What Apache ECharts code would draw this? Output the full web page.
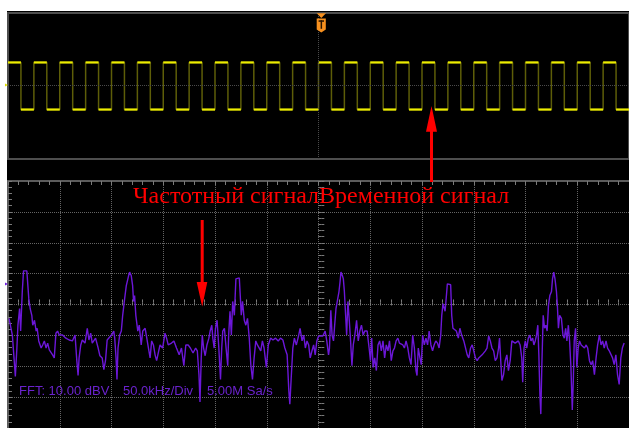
<!DOCTYPE html>
<html><head><meta charset="utf-8">
<script src="https://cdn.jsdelivr.net/npm/echarts@6/dist/echarts.min.js"></script>
<style>
html,body{margin:0;padding:0;background:#fff;}
#bg{position:absolute;left:7px;top:11px;width:622px;height:417px;background:#000;}
#chart{position:absolute;left:0;top:0;width:629px;height:428px;}
</style></head><body>
<div id="bg"></div><div id="chart"></div>
<script>
// ---- DATA ----
// Upper trace: square wave, edge times (divisions) and level held after each edge (V)
const sqEdgeTimes = [0,0.25,0.5,0.75,1,1.25,1.5,1.75,2,2.25,2.5,2.75,3,3.25,3.5,3.75,4,4.25,4.5,4.75,5,5.25,5.5,5.75,6,6.25,6.5,6.75,7,7.25,7.5,7.75,8,8.25,8.5,8.75,9,9.25,9.5,9.75,10,10.25,10.5,10.75,11,11.25,11.5,11.75,12];
const sqLevels = [1,-1,1,-1,1,-1,1,-1,1,-1,1,-1,1,-1,1,-1,1,-1,1,-1,1,-1,1,-1,1,-1,1,-1,1,-1,1,-1,1,-1,1,-1,1,-1,1,-1,1,-1,1,-1,1,-1,1,-1];
// Lower trace: FFT spectrum [frequency kHz, level dBV]
const fftPoints = [[1.0,-4.5],[4.2,-9.9],[7.1,-23.3],[8.6,-14.1],[9.6,-6.7],[11.2,-1.3],[12.2,-8.6],[13.8,4.2],[15.0,10.9],[16.9,10.9],[18.2,10.9],[19.2,6.1],[20.1,1.9],[21.4,-1.3],[23.0,-3.5],[23.9,-6.7],[25.6,-5.1],[27.2,-8.6],[28.2,-7.7],[29.7,-11.8],[32.0,-14.1],[33.5,-13.1],[35.1,-11.8],[36.8,-14.1],[38.3,-12.5],[39.9,-14.7],[41.6,-15.0],[43.1,-16.3],[44.7,-17.3],[46.3,-9.3],[47.9,-8.6],[49.5,-9.9],[52.7,-9.9],[55.9,-10.9],[59.1,-11.5],[62.2,-11.8],[64.8,-9.9],[66.5,-18.2],[67.7,-23.0],[68.7,-17.3],[70.3,-13.1],[71.8,-11.5],[74.4,-12.5],[76.6,-7.7],[78.2,-11.5],[79.9,-9.3],[81.4,-12.5],[84.6,-10.9],[87.1,-14.1],[88.8,-16.6],[91.0,-17.3],[92.6,-21.1],[94.2,-18.2],[95.8,-11.5],[97.4,-10.9],[100.0,-9.9],[102.2,-8.6],[103.1,-10.9],[104.4,-17.3],[105.3,-24.3],[106.3,-14.1],[107.9,-9.9],[109.5,-8.6],[110.8,-3.5],[112.7,1.9],[114.3,6.1],[116.5,9.3],[117.5,10.5],[119.1,9.3],[120.4,6.1],[121.3,1.0],[122.3,2.9],[123.5,-3.5],[125.4,-8.6],[126.8,-6.7],[128.7,-13.1],[130.2,-8.6],[132.5,-7.7],[134.1,-10.9],[135.7,-14.1],[137.3,-17.3],[138.8,-11.8],[140.5,-13.1],[142.1,-16.3],[143.6,-18.2],[145.2,-15.7],[146.9,-13.1],[149.4,-14.1],[151.7,-9.3],[153.2,-10.9],[154.8,-13.1],[158.0,-12.5],[160.3,-11.8],[162.8,-14.1],[165.4,-16.3],[167.6,-14.1],[169.9,-19.8],[171.8,-13.1],[174.0,-13.1],[176.2,-14.1],[178.8,-15.7],[181.3,-14.1],[182.9,-15.0],[184.5,-22.7],[185.5,-31.6],[186.7,-17.3],[187.7,-9.9],[189.0,-14.1],[190.5,-16.6],[192.2,-13.1],[194.1,-10.9],[195.3,-8.6],[196.9,-6.7],[197.9,-10.9],[199.2,-14.1],[200.5,-7.7],[202.0,-5.1],[203.7,-14.1],[205.3,-24.3],[206.5,-14.1],[207.5,-8.6],[209.1,-7.7],[210.7,-14.1],[212.3,-19.8],[213.2,-9.9],[214.5,-2.2],[215.8,-9.9],[217.1,1.0],[218.7,-3.5],[220.2,8.3],[221.9,8.6],[223.5,8.6],[224.4,2.9],[225.4,-3.5],[226.6,1.0],[228.3,-5.1],[229.8,-6.7],[231.4,-4.5],[233.1,-10.9],[234.6,-19.5],[236.2,-24.3],[237.8,-17.3],[239.4,-11.8],[241.0,-13.1],[242.6,-12.5],[244.2,-15.0],[245.8,-11.8],[247.4,-14.1],[249.6,-20.4],[251.5,-13.1],[253.7,-10.9],[256.0,-11.5],[258.5,-10.9],[261.1,-11.8],[263.3,-10.9],[265.6,-11.5],[267.5,-14.1],[269.7,-16.3],[271.3,-27.8],[272.3,-32.3],[273.5,-24.6],[275.2,-14.1],[276.7,-10.9],[278.6,-13.1],[280.9,-9.9],[282.2,-7.7],[284.1,-11.8],[285.7,-9.9],[287.3,-14.1],[288.9,-11.8],[290.5,-13.1],[292.0,-17.3],[293.7,-15.0],[295.3,-13.1],[296.8,-16.3],[298.4,-11.8],[300.1,-10.2],[301.6,-10.2],[304.2,-10.2],[306.4,-8.6],[308.0,-11.8],[309.7,-16.3],[310.6,-14.1],[311.9,-1.9],[313.1,-9.9],[314.5,-11.8],[315.4,-7.7],[316.9,-1.3],[318.6,1.9],[319.8,4.2],[320.8,7.3],[321.7,10.5],[323.1,9.3],[324.0,8.3],[325.0,4.2],[326.2,-3.5],[327.2,-9.9],[328.4,1.0],[329.8,-5.4],[331.0,-11.8],[332.3,-19.8],[333.6,-13.1],[335.1,-9.9],[336.8,-5.1],[338.4,-11.8],[339.9,-8.6],[341.5,-6.7],[343.2,-9.9],[344.7,-8.6],[347.0,-8.6],[348.9,-14.1],[350.2,-18.2],[351.4,-10.9],[352.8,-20.4],[354.3,-17.3],[355.9,-21.4],[357.5,-13.1],[359.1,-11.8],[360.7,-15.0],[362.3,-11.8],[363.9,-17.3],[365.5,-13.1],[367.1,-15.0],[368.6,-11.8],[370.3,-18.2],[371.9,-15.0],[373.4,-14.1],[375.0,-11.8],[376.7,-10.9],[378.2,-12.5],[379.8,-13.1],[381.5,-13.1],[383.0,-14.1],[384.6,-11.8],[386.3,-14.1],[387.8,-17.3],[389.4,-19.5],[391.0,-9.9],[392.6,-14.1],[394.2,-21.4],[395.2,-23.0],[396.4,-14.1],[398.0,-17.3],[399.3,-19.5],[400.6,-9.9],[402.2,-13.1],[403.8,-10.9],[405.4,-13.1],[406.9,-8.6],[408.6,-13.1],[410.2,-15.0],[411.7,-13.1],[413.3,-11.8],[415.0,-12.5],[416.5,-14.1],[418.1,-9.9],[419.1,-3.5],[420.3,0.3],[422.3,-2.2],[423.6,2.9],[424.5,6.7],[426.1,6.7],[427.7,6.4],[428.7,-3.5],[429.9,-7.7],[431.5,-8.3],[433.2,-8.6],[435.1,-10.9],[436.6,-7.7],[438.3,-9.9],[440.4,-11.8],[442.1,-11.8],[443.7,-16.3],[445.2,-17.3],[446.9,-14.1],[448.5,-13.1],[450.0,-15.0],[451.6,-17.3],[453.3,-18.2],[454.8,-17.3],[456.4,-17.3],[458.1,-16.3],[459.6,-16.6],[461.2,-15.0],[462.8,-14.1],[464.4,-10.2],[466.0,-11.8],[467.6,-14.1],[469.2,-15.0],[470.8,-18.2],[472.4,-17.3],[474.0,-14.1],[474.9,-10.9],[476.3,-19.5],[477.2,-24.6],[478.8,-22.7],[480.4,-18.2],[482.0,-16.3],[483.5,-21.4],[485.2,-18.2],[486.8,-11.8],[488.3,-11.8],[490.0,-12.5],[491.6,-13.1],[493.1,-11.8],[494.8,-13.1],[496.4,-17.3],[497.3,-25.2],[498.6,-14.1],[499.8,-11.8],[501.2,-14.1],[502.7,-10.9],[504.3,-9.9],[505.3,-11.8],[506.9,-10.9],[508.1,-13.1],[509.4,-11.8],[510.7,-9.9],[511.9,-6.7],[512.9,-16.3],[513.9,-29.1],[514.8,-35.5],[515.8,-19.5],[517.1,-3.5],[518.4,-7.7],[519.7,-6.7],[520.9,-8.6],[522.2,-0.3],[523.5,2.9],[525.1,4.2],[526.1,8.3],[527.3,10.5],[528.5,8.3],[529.9,4.2],[530.8,-0.3],[531.8,-7.7],[533.0,-3.5],[534.7,-4.5],[536.2,-9.9],[537.5,-10.9],[538.8,-7.7],[540.0,-11.8],[541.4,-6.7],[542.6,-11.8],[543.9,-20.4],[545.2,-34.2],[546.2,-24.6],[547.1,-11.8],[548.4,-7.7],[549.6,-20.4],[550.9,-14.1],[552.2,-11.8],[553.8,-13.1],[555.4,-13.1],[557.0,-14.1],[558.6,-13.1],[560.1,-14.1],[561.8,-18.2],[563.4,-19.5],[564.9,-18.2],[566.6,-22.7],[568.2,-17.3],[569.7,-13.1],[571.4,-9.9],[573.0,-13.1],[574.5,-11.8],[576.1,-14.1],[577.8,-11.8],[579.3,-14.1],[580.9,-15.0],[582.5,-15.0],[584.1,-17.3],[585.7,-19.5],[587.3,-16.3],[588.9,-22.7],[590.5,-25.9],[592.1,-17.3],[593.6,-14.1],[595.3,-12.5]];
const fftInfoLabels = ['FFT: 10.00 dBV', '50.0kHz/Div', '5.00M Sa/s'];
const annotationText = 'Частотный сигналВременной сигнал';

// ---- CHART ----
const chart = echarts.init(document.getElementById('chart'), null, {renderer: 'canvas'});
const GRID_W = 626.6, GRID2_H = 251.1;
const gridCol = '#5c5c5c', dotCol = '#646464', tickCol = '#7a7a7a';
const sqStep = sqLevels.map((L, i) => [sqEdgeTimes[i], L]).concat([[sqEdgeTimes[sqEdgeTimes.length - 1], sqLevels[sqLevels.length - 1]]]);
const sqFlat = sqLevels.map((L, i) => [sqEdgeTimes[i], sqEdgeTimes[i + 1], L]);

function hiddenAxis(extra) {
  return Object.assign({type: 'value', axisLabel: {show: false}, axisTick: {show: false},
    axisLine: {show: false, onZero: false}, splitLine: {show: false}}, extra);
}
function tickAxis(extra, inside, len) {
  return Object.assign({type: 'value', axisLabel: {show: false},
    axisTick: {show: true, inside: inside, length: len, lineStyle: {color: tickCol, width: 1}},
    axisLine: {show: false, onZero: false}, splitLine: {show: false}}, extra);
}

const option = {
  backgroundColor: 'transparent',
  animation: false,
  grid: [
    {left: 8, top: 13, width: GRID_W, height: 146, show: true, borderColor: '#4e4e4e', borderWidth: 2, backgroundColor: 'transparent'},
    {left: 8, top: 181, width: GRID_W, height: GRID2_H, show: false}
  ],
  xAxis: [
    hiddenAxis({gridIndex: 0, min: 0, max: 12}),
    {type: 'value', gridIndex: 1, min: 0, max: 600, interval: 50, position: 'top',
      axisLine: {show: true, onZero: false, lineStyle: {color: gridCol, width: 2}},
      axisTick: {show: false}, axisLabel: {show: false},
      splitLine: {show: true, lineStyle: {color: dotCol, width: 1, type: [1, 1]}}},
    tickAxis({gridIndex: 1, min: 0, max: 600, interval: 10, position: 'top'}, true, 4),
    tickAxis({gridIndex: 1, min: 0, max: 600, interval: 10, position: 'bottom', offset: -GRID2_H / 2}, true, 3),
    tickAxis({gridIndex: 1, min: 0, max: 600, interval: 10, position: 'bottom', offset: -GRID2_H / 2}, false, 3)
  ],
  yAxis: [
    hiddenAxis({gridIndex: 0, min: -3.1, max: 3.1}),
    {type: 'value', gridIndex: 1, min: -40, max: 40, interval: 10, position: 'left',
      axisLine: {show: true, onZero: false, lineStyle: {color: gridCol, width: 2}},
      axisTick: {show: false}, axisLabel: {show: false},
      splitLine: {show: true, lineStyle: {color: dotCol, width: 1, type: [1, 1]}}},
    tickAxis({gridIndex: 1, min: -40, max: 40, interval: 2, position: 'left'}, true, 4),
    tickAxis({gridIndex: 1, min: -40, max: 40, interval: 2, position: 'left', offset: -GRID_W / 2}, true, 3),
    tickAxis({gridIndex: 1, min: -40, max: 40, interval: 2, position: 'left', offset: -GRID_W / 2}, false, 3)
  ],
  series: [
    {type: 'line', name: 'CH1', xAxisIndex: 0, yAxisIndex: 0, data: sqStep, step: 'end',
      showSymbol: false, symbol: 'none', lineStyle: {color: '#5e5e08', width: 1.5}, z: 3,
      markLine: {silent: true, symbol: 'none', label: {show: false},
        lineStyle: {color: '#4a4a4a', type: [1, 1], width: 1},
        data: [{yAxis: 0.05}, {xAxis: 6}]}},
    {type: 'custom', name: 'CH1 levels', xAxisIndex: 0, yAxisIndex: 0, data: sqFlat,
      encode: {x: [0, 1], y: 2}, z: 4,
      renderItem: function (params, api) {
        const p0 = api.coord([api.value(0), api.value(2)]);
        const p1 = api.coord([api.value(1), api.value(2)]);
        return {type: 'line', shape: {x1: p0[0], y1: p0[1], x2: p1[0], y2: p1[1]},
          style: {stroke: '#ecec00', lineWidth: 2.2}};
      }},
    {type: 'line', name: 'FFT', xAxisIndex: 1, yAxisIndex: 1, data: fftPoints,
      showSymbol: false, symbol: 'none', sampling: false, z: 5,
      lineStyle: {color: '#6c17d8', width: 1.4}}
  ],
  graphic: {elements: [
    // FFT info text
    {type: 'text', silent: true, z: 10, style: {text: fftInfoLabels[0], x: 19, y: 391, verticalAlign: 'middle', fill: '#6a22cc', font: '13px "Liberation Sans"'}},
    {type: 'text', silent: true, z: 10, style: {text: fftInfoLabels[1], x: 123, y: 391, verticalAlign: 'middle', fill: '#6a22cc', font: '13px "Liberation Sans"'}},
    {type: 'text', silent: true, z: 10, style: {text: fftInfoLabels[2], x: 207, y: 391, verticalAlign: 'middle', fill: '#6a22cc', font: '13px "Liberation Sans"'}},
    // red annotation
    {type: 'text', silent: true, z: 20, style: {text: annotationText, x: 133, y: 197, verticalAlign: 'middle', fill: '#ff0000', font: '24px "Liberation Serif"'}},
    // up arrow
    {type: 'rect', silent: true, z: 20, shape: {x: 430, y: 130, width: 3, height: 52}, style: {fill: '#ff0000'}},
    {type: 'polygon', silent: true, z: 20, shape: {points: [[426, 131.7], [437, 131.7], [431.5, 106]]}, style: {fill: '#ff0000'}},
    // down arrow
    {type: 'rect', silent: true, z: 20, shape: {x: 200.7, y: 220, width: 3, height: 64}, style: {fill: '#ff0000'}},
    {type: 'polygon', silent: true, z: 20, shape: {points: [[196.7, 282], [207.3, 282], [202.2, 306.7]]}, style: {fill: '#ff0000'}},
    // trigger marker
    {type: 'polygon', silent: true, z: 20, shape: {points: [[316.7, 13.3], [326, 13.3], [321.3, 18]]}, style: {fill: '#f7901e'}},
    {type: 'polygon', silent: true, z: 20, shape: {points: [[316.7, 18.6], [325.8, 18.6], [325.8, 29.5], [321.3, 32.5], [316.7, 29.5]]}, style: {fill: '#f7901e'}},
    {type: 'rect', silent: true, z: 21, shape: {x: 318.6, y: 20.3, width: 5.4, height: 1.5}, style: {fill: '#2a1500'}},
    {type: 'rect', silent: true, z: 21, shape: {x: 320.6, y: 20.3, width: 1.5, height: 8.5}, style: {fill: '#2a1500'}},
    // channel markers
    {type: 'polygon', silent: true, z: 20, shape: {points: [[5, 83.5], [8, 85], [5, 86.5]]}, style: {fill: '#e0e000'}},
    {type: 'polygon', silent: true, z: 20, shape: {points: [[5, 282.5], [8, 284], [5, 285.5]]}, style: {fill: '#7020e0'}}
  ]}
};
chart.setOption(option);
</script>
</body></html>
